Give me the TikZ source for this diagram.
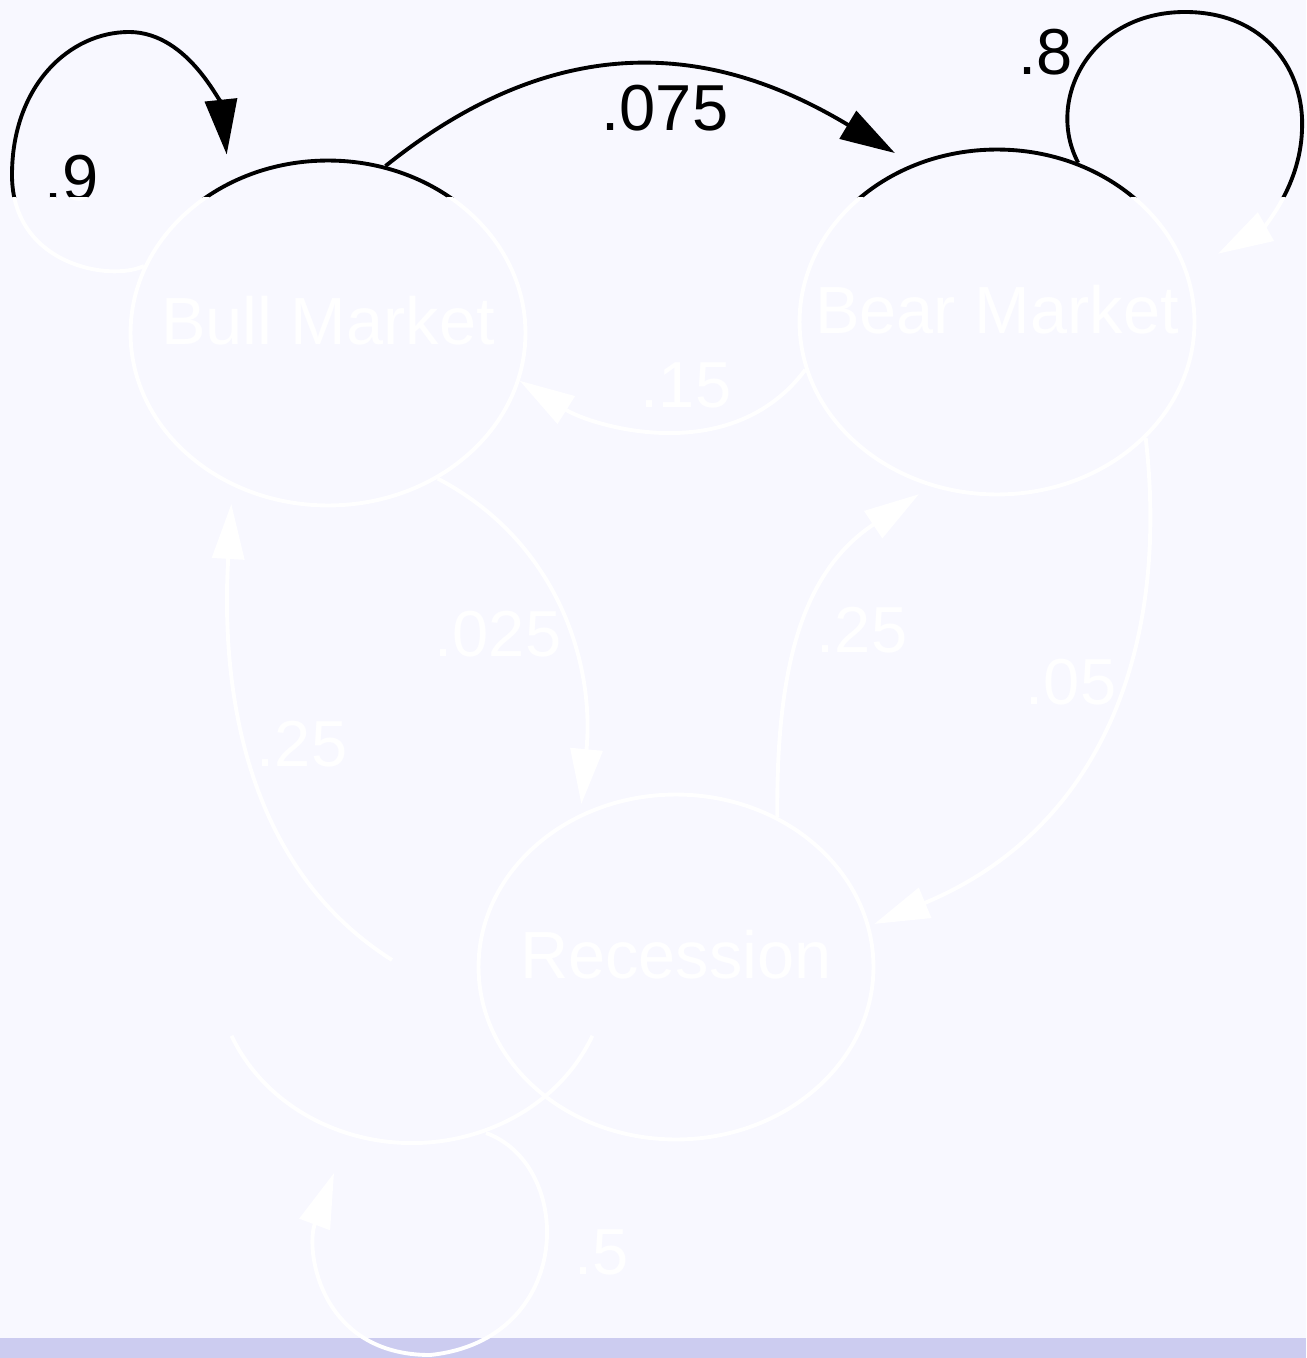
\documentclass[tikz,border=0pt]{standalone}
\usepackage{fontspec}
\setmainfont{Liberation Sans}
\usetikzlibrary{shapes.geometric, arrows.meta}

\definecolor{pagebg}{HTML}{F8F8FF}
\definecolor{stripbg}{HTML}{CCCCF0}

% one full pass of the chain, drawn in the current colour
\newcommand{\drawchain}{%
  % States
  \node[state, label={[statename]center:Bull Market}] (bull) at (328,333) {};
  \node[state, label={[statename]center:Bear Market}] (bear) at (997,322) {};
  \node[state, label={[statename]center:Recession}] (recession) at (676,967) {};
  \coordinate (ghostout) at (392,960);
  \coordinate (loopout) at (486,1133);
  \coordinate (loopin) at (334,1173);

  % Self loops
  \draw[arrow, shorten >=0.54cm] (bull.160) .. controls (110,282) and (12,265) .. (12,175)
    .. controls (12,85) and (70,32) .. (129,32) .. controls (190,32) and (222,110) .. (bull.123);
  \draw[arrow, shorten >=0.7cm] (bear.63) .. controls (1045,100) and (1090,12) .. (1185,12)
    .. controls (1265,12) and (1305,70) .. (1302,130) .. controls (1300,190) and (1260,230) .. (bear.15);
  \draw (592.4,1035.8) arc[start angle=23, end angle=157, x radius=196, y radius=176];
  \draw[arrow] (loopout) .. controls (575,1165) and (575,1340) .. (430,1355)
    .. controls (320,1355) and (305,1250) .. (loopin);

  % Transitions
  \draw[arrow, shorten >=0.42cm] (bull.71) .. controls (580,10) and (740,60) .. (bear.118);
  \draw[arrow] (bear.194) .. controls (730,470) and (590,425) .. (bull.-14);
  \draw[arrow, shorten >=0.2cm] (bull.-53) .. controls (555,540) and (595,660) .. (recession.122);
  \draw[arrow, shorten >=0.36cm] (ghostout) .. controls (250,870) and (220,700) .. (bull.238);
  \draw[arrow, shorten >=0.28cm] (recession.56) .. controls (776,660) and (805,570) .. (bear.248);
  \draw[arrow, shorten >=0.1cm] (bear.-38) .. controls (1170,650) and (1100,830) .. (recession.12);

  % Probabilities
  \node[prob] (p9) at (72,178) {.9};
  \node[prob] (p075) at (665,108) {.075};
  \node[prob] (p8) at (1046,52) {.8};
  \node[prob] (p15) at (686,385) {.15};
  \node[prob] (p025) at (498,634) {.025};
  \node[prob] (p25a) at (302,744) {.25};
  \node[prob] (p25b) at (862,630) {.25};
  \node[prob] (p05) at (1071,682) {.05};
  \node[prob] (p5) at (602,1252) {.5};
}

\begin{document}
\begin{tikzpicture}[
    x=0.02cm, y=-0.02cm,
    line width=2.2pt,
    state/.style={ellipse, draw, minimum width=7.9cm, minimum height=6.9cm, inner sep=0pt},
    statename/.style={font=\fontsize{38}{42}\selectfont, inner sep=0pt, yshift=0.24cm},
    prob/.style={font=\fontsize{37}{41}\selectfont, inner sep=0pt},
    arrow/.style={-{Triangle[length=1.1cm, width=0.64cm]}}
]
\useasboundingbox (0,0) rectangle (1306,1358);

% Page
\fill[pagebg] (0,0) rectangle (1306,1338);
\fill[stripbg] (0,1338) rectangle (1306,1358);

% Upper band in black
\begin{scope}
  \clip (0,0) rectangle (1306,198);
  \begin{scope}[black]
    \drawchain
  \end{scope}
\end{scope}

% Rest in white
\begin{scope}
  \clip (0,198) rectangle (1306,1358);
  \begin{scope}[white]
    \drawchain
  \end{scope}
\end{scope}

\end{tikzpicture}
\end{document}
